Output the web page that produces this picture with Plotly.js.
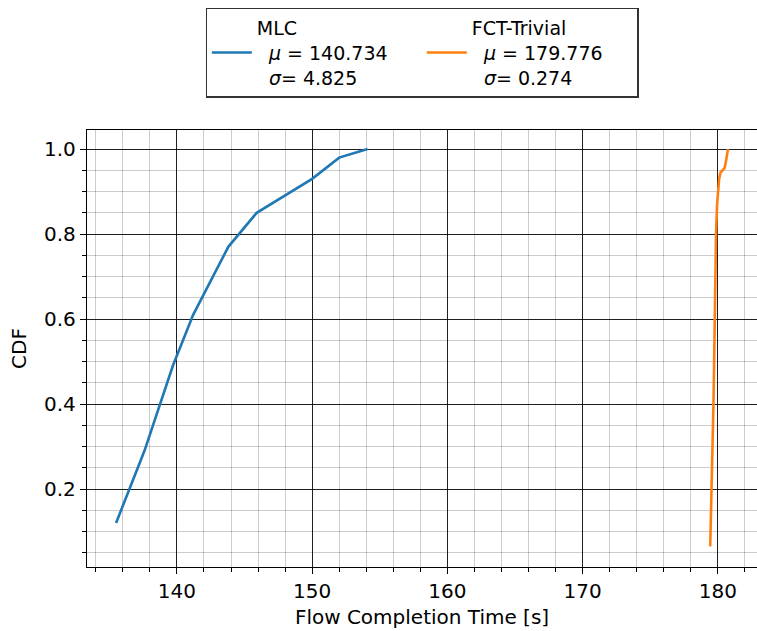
<!DOCTYPE html>
<html>
<head>
<meta charset="utf-8">
<script src="https://cdn.plot.ly/plotly-3.0.1.min.js"></script>
<style>html,body{margin:0;padding:0;background:#fff;}#chart{width:757px;height:631px;}</style>
</head>
<body>
<div id="chart"></div>
<script>
const mlcX = [135.5, 137.6, 139.7, 141.2, 143.8, 145.9, 150.0, 152.0, 154.1];
const mlcY = [0.12, 0.29, 0.49, 0.61, 0.77, 0.85, 0.93, 0.98, 1.0];
const fctX = [179.44, 179.55, 179.62, 179.68, 179.73, 179.77, 179.82, 179.87, 179.95, 180.0, 180.1, 180.2, 180.35, 180.5, 180.6, 180.75];
const fctY = [0.065, 0.2, 0.3, 0.4, 0.5, 0.6, 0.7, 0.8, 0.87, 0.9, 0.93, 0.945, 0.95, 0.955, 0.97, 1.0];
const mlcLabel = "MLC<br>  <i>μ</i> = 140.734<br>  <i>σ</i>= 4.825";
const fctLabel = "FCT-Trivial<br>  <i>μ</i> = 179.776<br>  <i>σ</i>= 0.274";
const xTicks = [140, 150, 160, 170, 180];
const yTicks = [0.2, 0.4, 0.6, 0.8, 1.0];

const traces = [
  {x: mlcX, y: mlcY, mode: 'lines', name: mlcLabel, line: {color: '#1f77b4', width: 2.6}},
  {x: fctX, y: fctY, mode: 'lines', name: fctLabel, line: {color: '#ff7f0e', width: 2.6}}
];
const font = {family: 'DejaVu Sans, sans-serif', size: 20, color: '#000'};
const layout = {
  width: 757, height: 631,
  margin: {l: 87, r: 0, t: 130, b: 64},
  paper_bgcolor: '#fff', plot_bgcolor: '#fff',
  font: font,
  showlegend: true,
  legend: {
    orientation: 'h', x: 0.5, xanchor: 'center', y: 1.28, yanchor: 'top',
    bordercolor: '#333', borderwidth: 1.3, bgcolor: '#fff',
    font: {family: 'DejaVu Sans, sans-serif', size: 19, color: '#000'},
    valign: 'middle', itemwidth: 40,
    entrywidth: 160, entrywidthmode: 'pixels'
  },
  xaxis: {
    range: [133.35, 182.9],
    tickvals: xTicks, ticktext: xTicks.map(String),
    ticks: 'outside', ticklen: 6, tickwidth: 1, tickcolor: '#000',
    showline: true, mirror: true, linecolor: '#000', linewidth: 1.2,
    showgrid: true, gridcolor: 'rgba(0,0,0,0.85)', gridwidth: 1,
    zeroline: false,
    minor: {dtick: 2, tick0: 0, ticks: 'outside', ticklen: 3.5, tickcolor: '#000', showgrid: true, gridcolor: 'rgba(0,0,0,0.25)', gridwidth: 0.8},
    title: {text: 'Flow Completion Time [s]', font: {size: 20}, standoff: 7},
    tickfont: {size: 20}
  },
  yaxis: {
    range: [0.0165, 1.045],
    tickvals: yTicks, ticktext: yTicks.map(v => v.toFixed(1)),
    ticks: 'outside', ticklen: 6, tickwidth: 1, tickcolor: '#000',
    showline: true, mirror: true, linecolor: '#000', linewidth: 1.2,
    showgrid: true, gridcolor: 'rgba(0,0,0,0.85)', gridwidth: 1,
    zeroline: false,
    minor: {dtick: 0.05, tick0: 0, ticks: 'outside', ticklen: 3.5, tickcolor: '#000', showgrid: true, gridcolor: 'rgba(0,0,0,0.25)', gridwidth: 0.8},
    title: {text: 'CDF', font: {size: 20}, standoff: 12},
    tickfont: {size: 20}
  }
};
Plotly.newPlot('chart', traces, layout, {displayModeBar: false, staticPlot: true});
</script>
</body>
</html>
